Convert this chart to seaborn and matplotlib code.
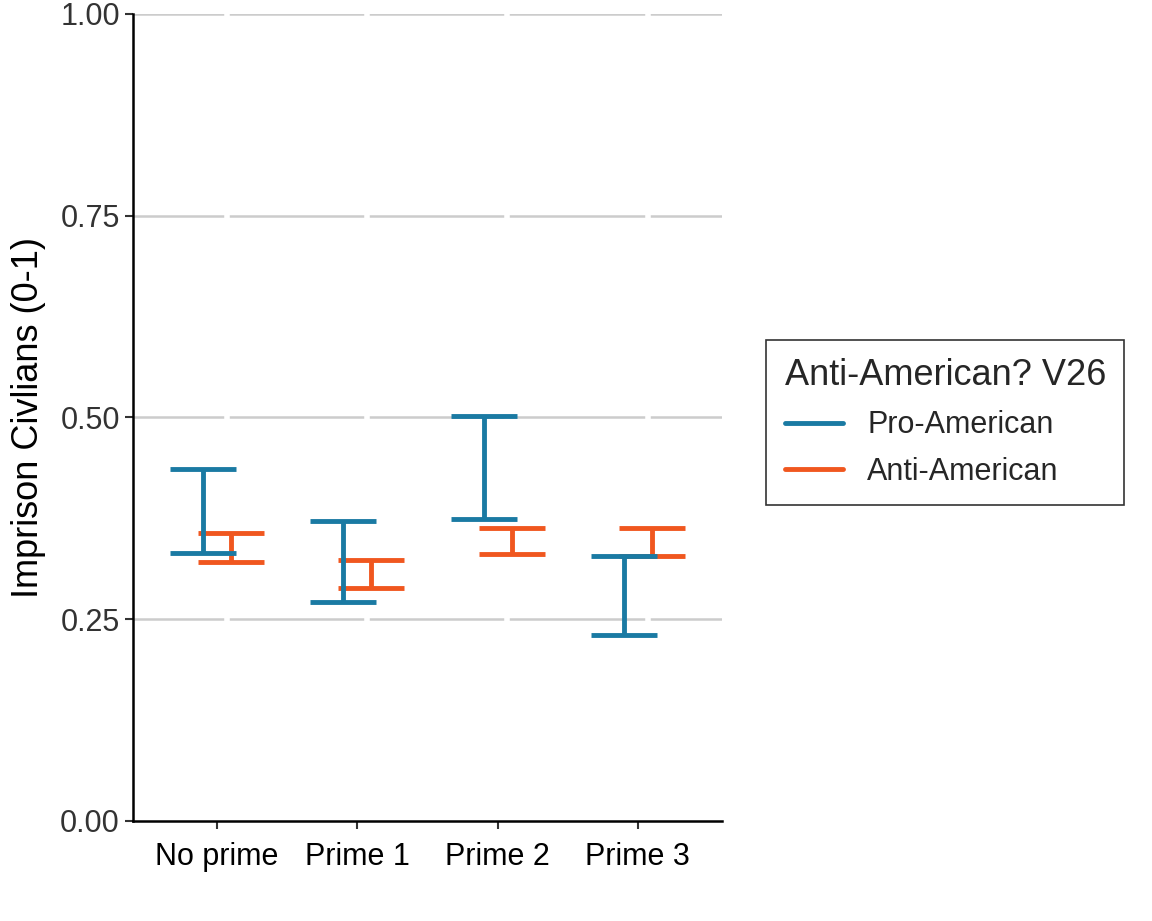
import numpy as np
import pandas as pd
import seaborn as sns
import matplotlib
matplotlib.use("Agg")
import matplotlib.pyplot as plt
from matplotlib.lines import Line2D
from matplotlib.patches import Rectangle

primes = ["No prime", "Prime 1", "Prime 2", "Prime 3"]
groups = ["Pro-American", "Anti-American"]
pro_low = [0.332, 0.271, 0.374, 0.230]
pro_high = [0.436, 0.372, 0.502, 0.328]
anti_low = [0.321, 0.289, 0.331, 0.328]
anti_high = [0.357, 0.323, 0.363, 0.363]
colors = {"Pro-American": "#1a7aa3", "Anti-American": "#f0571f"}

df = pd.DataFrame({
    "prime": primes * 2,
    "group": [groups[0]] * 4 + [groups[1]] * 4,
    "low": pro_low + anti_low,
    "high": pro_high + anti_high,
})

sns.set_theme(style="white")
plt.rcParams["font.family"] = ["Liberation Sans", "DejaVu Sans"]

fig = plt.figure(figsize=(11.52, 9.21), dpi=100)
ax = fig.add_axes([0.1155, 0.1086, 0.5112, 0.8762])

for y in [0.25, 0.5, 0.75, 1.0]:
    ax.axhline(y, color="#cccccc", lw=1.8, zorder=0)
for x in range(4):
    ax.axvline(x + 0.07, color="white", lw=4, zorder=0.5)

offsets = {"Pro-American": -0.1, "Anti-American": 0.1}
for g, sub in df.groupby("group"):
    xs = np.array([primes.index(p) for p in sub["prime"]]) + offsets[g]
    mid = (sub["low"].values + sub["high"].values) / 2
    err = (sub["high"].values - sub["low"].values) / 2
    ax.errorbar(xs, mid, yerr=err, fmt="none", ecolor=colors[g],
                elinewidth=3.5, capsize=24, capthick=3.5, zorder=3)

ax.set_xlim(-0.6, 3.6)
ax.set_ylim(0, 1)
ax.set_xticks(range(4))
ax.set_xticklabels(primes)
ax.set_yticks([0, 0.25, 0.5, 0.75, 1.0])
ax.set_yticklabels(["0.00", "0.25", "0.50", "0.75", "1.00"])
ax.tick_params(axis="both", labelsize=22, colors="#333333", length=6, width=1.5,
               bottom=True, left=True)
ax.tick_params(axis="x", labelcolor="black", pad=9)
for s in ["top", "right"]:
    ax.spines[s].set_visible(False)
for s in ["left", "bottom"]:
    ax.spines[s].set_color("black")
    ax.spines[s].set_linewidth(1.8)
ax.set_ylabel("Imprison Civlians (0-1)", fontsize=26, color="black", labelpad=10)
ax.set_xlabel("")

handles = [Line2D([], [], color=colors[g], lw=3.5) for g in groups]
leg = fig.legend(handles, groups, title="Anti-American? V26", loc="center left",
                 bbox_to_anchor=(0.652, 0.541), fontsize=22, title_fontsize=26,
                 frameon=True, fancybox=False, edgecolor="black",
                 handlelength=1.9, borderpad=0.6, labelspacing=0.55)
leg.get_frame().set_linewidth(1.2)
leg._legend_box.align = "left"

fig.savefig("out.png", dpi=100)
